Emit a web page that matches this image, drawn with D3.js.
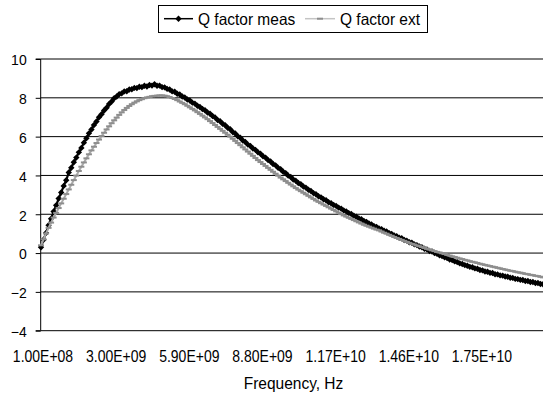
<!DOCTYPE html>
<html>
<head>
<meta charset="utf-8">
<script src="https://cdn.jsdelivr.net/npm/d3@7"></script>
<style>
  html, body { margin: 0; padding: 0; background: #fff; }
  svg { display: block; font-family: Arial, "Liberation Sans", sans-serif; }
</style>
</head>
<body>
<svg id="chart" width="543" height="396"></svg>
<script>
// ---- data ----
const freqStartHz = 1e8;
const freqStepHz = 1e8;
const pointCount = 200;
const frequencies = d3.range(pointCount).map(i => freqStartHz + i * freqStepHz);

const xTickLabels = ["1.00E+08", "3.00E+09", "5.90E+09", "8.80E+09", "1.17E+10", "1.46E+10", "1.75E+10"];
const xTickEvery = 29;
const yTicks = [-4, -2, 0, 2, 4, 6, 8, 10];

const seriesNames = ["Q factor meas", "Q factor ext"];

const qMeas = [
  0.30, 0.69, 1.04, 1.43, 1.77, 2.14, 2.46, 2.81, 3.12, 3.46,
  3.75, 4.15, 4.40, 4.68, 4.92, 5.19, 5.42, 5.69, 5.92, 6.17,
  6.37, 6.60, 6.78, 7.00, 7.15, 7.35, 7.49, 7.68, 7.81, 7.98,
  8.07, 8.19, 8.23, 8.33, 8.34, 8.43, 8.44, 8.51, 8.50, 8.57,
  8.55, 8.62, 8.58, 8.66, 8.63, 8.70, 8.62, 8.63, 8.55, 8.54,
  8.46, 8.43, 8.33, 8.31, 8.21, 8.17, 8.07, 8.02, 7.91, 7.86,
  7.75, 7.70, 7.59, 7.53, 7.42, 7.36, 7.24, 7.18, 7.06, 6.99,
  6.86, 6.79, 6.66, 6.59, 6.46, 6.38, 6.24, 6.16, 6.02, 5.94,
  5.80, 5.72, 5.59, 5.52, 5.39, 5.32, 5.19, 5.12, 4.99, 4.92,
  4.79, 4.72, 4.59, 4.52, 4.39, 4.32, 4.19, 4.12, 3.99, 3.92,
  3.79, 3.73, 3.61, 3.55, 3.43, 3.37, 3.26, 3.20, 3.09, 3.03,
  2.93, 2.87, 2.77, 2.72, 2.62, 2.57, 2.48, 2.43, 2.34, 2.29,
  2.20, 2.15, 2.06, 2.01, 1.92, 1.87, 1.79, 1.74, 1.65, 1.61,
  1.52, 1.48, 1.39, 1.35, 1.27, 1.23, 1.15, 1.11, 1.03, 0.99,
  0.91, 0.87, 0.79, 0.76, 0.67, 0.64, 0.56, 0.53, 0.45, 0.41,
  0.34, 0.30, 0.22, 0.19, 0.11, 0.08, 0.00, -0.04, -0.11, -0.15,
  -0.22, -0.26, -0.33, -0.36, -0.43, -0.46, -0.53, -0.56, -0.62, -0.65,
  -0.71, -0.73, -0.79, -0.81, -0.87, -0.89, -0.95, -0.96, -1.02, -1.03,
  -1.09, -1.10, -1.15, -1.16, -1.21, -1.22, -1.27, -1.28, -1.33, -1.34,
  -1.38, -1.39, -1.44, -1.44, -1.49, -1.49, -1.54, -1.54, -1.59, -1.61
];

const qExt = [
  0.40, 0.71, 1.01, 1.30, 1.57, 1.83, 2.07, 2.32, 2.56, 2.80,
  3.04, 3.28, 3.52, 3.76, 3.99, 4.23, 4.45, 4.67, 4.88, 5.09,
  5.29, 5.48, 5.67, 5.85, 6.03, 6.20, 6.37, 6.53, 6.69, 6.84,
  6.98, 7.12, 7.25, 7.37, 7.48, 7.58, 7.67, 7.75, 7.82, 7.88,
  7.93, 7.98, 8.02, 8.05, 8.08, 8.10, 8.11, 8.12, 8.12, 8.11,
  8.08, 8.04, 7.99, 7.94, 7.88, 7.81, 7.74, 7.67, 7.59, 7.51,
  7.43, 7.35, 7.26, 7.17, 7.08, 6.99, 6.90, 6.80, 6.70, 6.60,
  6.50, 6.40, 6.30, 6.20, 6.10, 6.00, 5.89, 5.78, 5.67, 5.56,
  5.45, 5.34, 5.23, 5.12, 5.01, 4.90, 4.79, 4.69, 4.59, 4.49,
  4.39, 4.29, 4.19, 4.09, 3.99, 3.89, 3.80, 3.71, 3.62, 3.53,
  3.44, 3.35, 3.27, 3.19, 3.11, 3.03, 2.95, 2.87, 2.79, 2.71,
  2.64, 2.57, 2.50, 2.43, 2.36, 2.29, 2.22, 2.15, 2.08, 2.01,
  1.94, 1.88, 1.82, 1.76, 1.70, 1.64, 1.58, 1.52, 1.46, 1.41,
  1.36, 1.31, 1.26, 1.21, 1.17, 1.11, 1.05, 1.00, 0.94, 0.89,
  0.83, 0.78, 0.73, 0.68, 0.63, 0.58, 0.53, 0.48, 0.44, 0.39,
  0.35, 0.31, 0.26, 0.22, 0.18, 0.14, 0.10, 0.06, 0.03, -0.01,
  -0.05, -0.09, -0.13, -0.17, -0.20, -0.24, -0.28, -0.31, -0.35, -0.38,
  -0.42, -0.45, -0.48, -0.51, -0.55, -0.58, -0.61, -0.64, -0.67, -0.70,
  -0.73, -0.76, -0.79, -0.82, -0.85, -0.88, -0.91, -0.93, -0.96, -0.99,
  -1.01, -1.04, -1.07, -1.09, -1.12, -1.14, -1.17, -1.19, -1.22, -1.25
];

// ---- layout ----
const svg = d3.select("#chart");
const plot = { left: 40.7, right: 543, top: 59, bottom: 330.7 };
const firstX = 41, lastX = 543;
const FONT = "Arial, 'Liberation Sans', sans-serif";

const x = d3.scalePoint().domain(frequencies).range([firstX, lastX]).padding(0);
const y = d3.scaleLinear().domain([-4, 10]).range([plot.bottom, plot.top]);

// gridlines
svg.append("g").selectAll("line").data(yTicks).join("line")
  .attr("x1", plot.left).attr("x2", plot.right)
  .attr("y1", d => y(d)).attr("y2", d => y(d))
  .attr("stroke", "#000").attr("stroke-width", 1);

// y axis
const yAxis = d3.axisLeft(y).tickValues(yTicks).tickSize(5).tickPadding(9).tickFormat(d3.format("d"));
const gy = svg.append("g").attr("transform", `translate(${plot.left},0)`).call(yAxis);
gy.select(".domain").attr("stroke", "#000").attr("d", `M-5,${plot.top}H0V${plot.bottom}H-5`);
gy.selectAll(".tick line").attr("stroke", "#000");
gy.selectAll(".tick text").attr("font-size", 14).attr("font-family", FONT)
  .attr("fill", "#000").attr("dy", "0.42em");

// x axis labels (category axis)
const xTickValues = frequencies.filter((f, i) => i % xTickEvery === 0);
const xAxis = d3.axisBottom(x).tickValues(xTickValues).tickSize(0).tickPadding(0)
  .tickFormat((d, i) => xTickLabels[i]);
const gx = svg.append("g").attr("transform", `translate(1.5,${plot.bottom})`).call(xAxis);
gx.select(".domain").remove();
gx.selectAll(".tick text").attr("font-size", 14).attr("font-family", FONT)
  .attr("fill", "#000").attr("y", 0).attr("dy", 0)
  .attr("transform", "translate(0,31.5) scale(1,1.15)");

// axis title
svg.append("text").attr("transform", "translate(293.5,388.8) scale(1,1.06)").attr("text-anchor", "middle")
  .attr("font-size", 15.5).attr("fill", "#000").text("Frequency, Hz");

// series
const measPts = frequencies.map((f, i) => [x(f), y(qMeas[i])]);
const extPts = frequencies.map((f, i) => [x(f), y(qExt[i])]);
const line = d3.line();
const diamond = "M0,-3.2L3.2,0L0,3.2L-3.2,0Z";

svg.append("path").attr("d", line(measPts)).attr("fill", "none")
  .attr("stroke", "#000").attr("stroke-width", 2.2);
svg.append("g").selectAll("path").data(measPts).join("path")
  .attr("d", diamond).attr("transform", d => `translate(${d[0]},${d[1]})`).attr("fill", "#000");

svg.append("path").attr("d", line(extPts)).attr("fill", "none")
  .attr("stroke", "#aaaaaa").attr("stroke-width", 2);
svg.append("g").selectAll("rect").data(extPts).join("rect")
  .attr("x", d => d[0] - 3).attr("y", d => d[1] - 1).attr("width", 6).attr("height", 2)
  .attr("fill", "#8e8e8e");

// legend
const lg = svg.append("g");
lg.append("rect").attr("x", 158.5).attr("y", 5.5).attr("width", 269).attr("height", 27)
  .attr("fill", "#fff").attr("stroke", "#000").attr("stroke-width", 1);
lg.append("line").attr("x1", 164).attr("x2", 193).attr("y1", 18.7).attr("y2", 18.7)
  .attr("stroke", "#000").attr("stroke-width", 1.5);
lg.append("path").attr("d", diamond).attr("transform", "translate(178.5,18.7)").attr("fill", "#000");
lg.append("text").attr("transform", "translate(198,24.8) scale(1,1.05)").attr("font-size", 15.5).attr("fill", "#000").text(seriesNames[0]);
lg.append("line").attr("x1", 305).attr("x2", 335).attr("y1", 18.7).attr("y2", 18.7)
  .attr("stroke", "#c4c4c4").attr("stroke-width", 1.5);
lg.append("rect").attr("x", 317).attr("y", 17.7).attr("width", 6).attr("height", 2).attr("fill", "#8e8e8e");
lg.append("text").attr("transform", "translate(340,24.8) scale(1,1.05)").attr("font-size", 15.5).attr("fill", "#000").text(seriesNames[1]);
</script>
</body>
</html>
